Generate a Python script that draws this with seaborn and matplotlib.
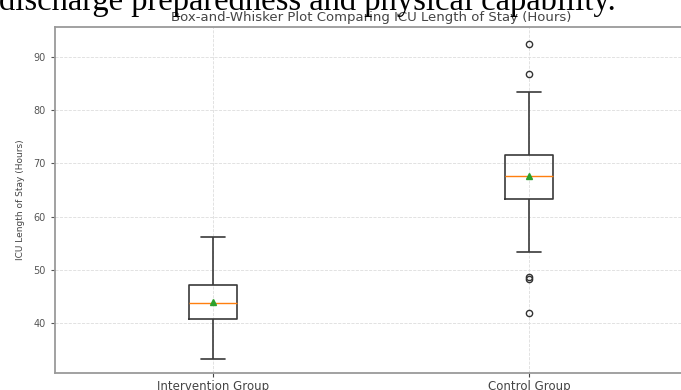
import numpy as np
import pandas as pd
import matplotlib
matplotlib.use("Agg")
import matplotlib.pyplot as plt
import seaborn as sns

# ---- data ----
groups = ["Intervention Group", "Control Group"]
intervention_hours = [33.2, 37.5, 40.75, 42.3, 43.7, 45.2, 47.1, 49.2, 56.2]
control_hours = [41.8, 48.2, 48.7, 53.35, 62.0, 63.35, 64.5, 65.3, 66.2, 67.0,
                 67.6, 68.4, 69.3, 70.2, 71.0, 71.6, 78.5, 81.5, 83.4, 86.8, 92.4]
yticks = [40, 50, 60, 70, 80, 90]

df = pd.DataFrame({
    "group": [groups[0]] * len(intervention_hours) + [groups[1]] * len(control_hours),
    "hours": intervention_hours + control_hours,
})

sns.set_style("whitegrid")
plt.rcParams["font.family"] = ["DejaVu Sans"]

W, H = 681, 390
fig = plt.figure(figsize=(W / 100, H / 100), dpi=100)
ax = fig.add_axes([55 / W, (H - 373) / H, (687 - 55) / W, (373 - 27) / H])

line_c = "#3a3a3a"
sns.boxplot(
    data=df, x="group", y="hours", order=groups, ax=ax,
    width=0.15, fill=False, color=line_c, linewidth=1.2, whis=1.5,
    showmeans=True,
    medianprops={"color": "#ff7f0e", "linewidth": 1.0},
    meanprops={"marker": "^", "markerfacecolor": "#2ca02c", "markeredgecolor": "#2ca02c",
               "markersize": 5},
    flierprops={"marker": "o", "markerfacecolor": "none", "markeredgecolor": "#333333",
                "markersize": 4.5, "markeredgewidth": 1.0},
)

ax.set_xlim(-0.5, 1.5)
ax.set_ylim(30.6, 95.6)
ax.set_yticks(yticks)
ax.set_xlabel("")
ax.set_ylabel("ICU Length of Stay (Hours)", fontsize=6.5, color="#444444", labelpad=6)
ax.set_title("Box-and-Whisker Plot Comparing ICU Length of Stay (Hours)",
             fontsize=9.5, color="#444444", pad=4)
ax.tick_params(axis="y", labelsize=7, colors="#555555", length=3, width=0.8, left=True)
ax.tick_params(axis="x", labelsize=8.5, colors="#444444", length=3, width=0.8, bottom=True, pad=2)

ax.grid(True, axis="both", color="#dddddd", linestyle="--", linewidth=0.6)
ax.set_axisbelow(True)
for s in ax.spines.values():
    s.set_color("#9a9a9a")
    s.set_linewidth(1.3)
ax.spines["right"].set_visible(False)

# cropped document text above the chart
fig.text(-1 / W, 1 - 10 / H, "discharge preparedness and physical capability.",
         family="Liberation Serif", fontsize=23.5, color="black", va="baseline", ha="left")

fig.savefig("out.png", dpi=100)
